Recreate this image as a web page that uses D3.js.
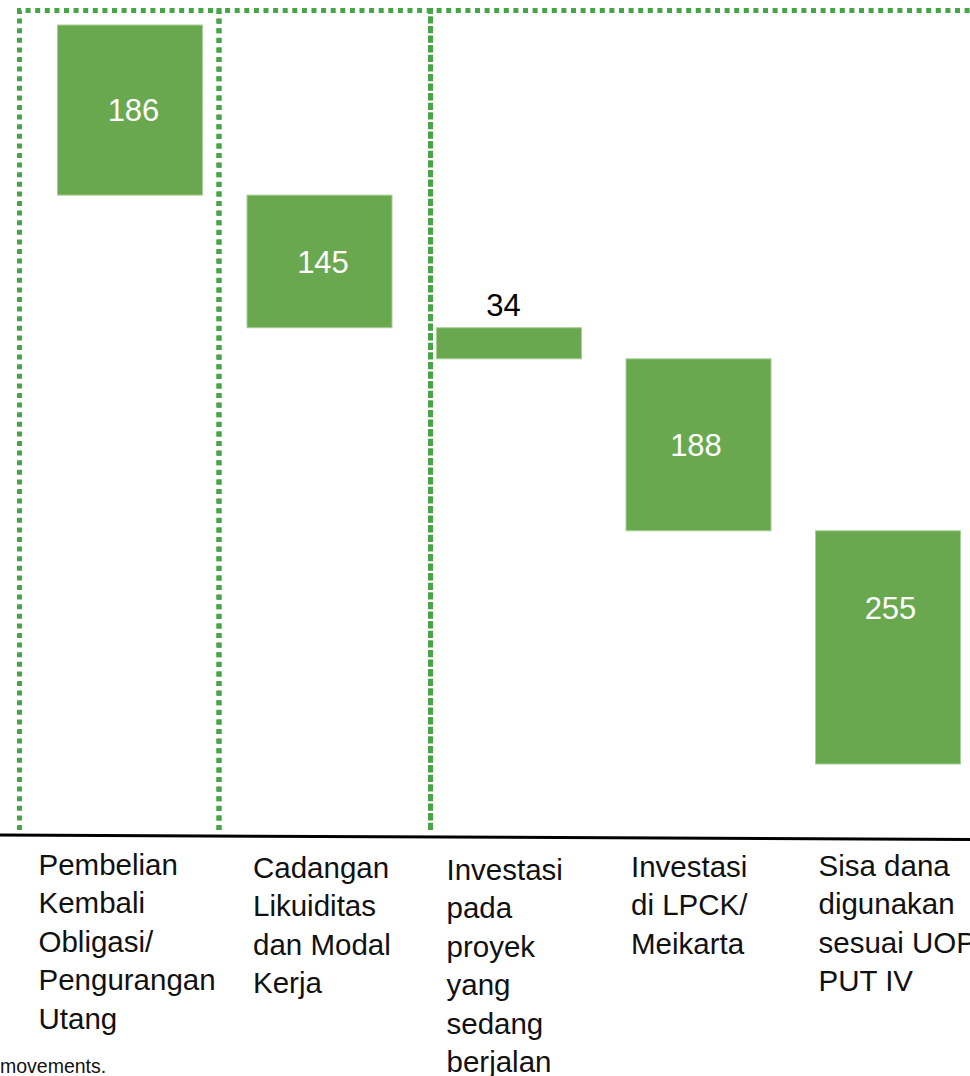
<!DOCTYPE html>
<html>
<head>
<meta charset="utf-8">
<script src="https://cdn.jsdelivr.net/npm/d3@7"></script>
<style>
  html, body { margin: 0; padding: 0; background: #fff; }
  svg { display: block; }
  .cat { font-family: "Liberation Sans", Arial, sans-serif; font-size: 29.5px; fill: #111; }
  .val { font-family: "Liberation Sans", Arial, sans-serif; font-size: 31px; }
  .note { font-family: "Liberation Sans", Arial, sans-serif; font-size: 19.5px; fill: #111; }
</style>
</head>
<body>
<svg id="waterfall"></svg>
<script>
// ---------- data ----------
var categories = ['pembelian', 'cadangan', 'proyek', 'lpck', 'sisa'];
var values = [186, 145, 34, 188, 255];
var catLines = [
  ['Pembelian', 'Kembali', 'Obligasi/', 'Pengurangan', 'Utang'],
  ['Cadangan', 'Likuiditas', 'dan Modal', 'Kerja'],
  ['Investasi', 'pada', 'proyek', 'yang', 'sedang', 'berjalan'],
  ['Investasi', 'di LPCK/', 'Meikarta'],
  ['Sisa dana', 'digunakan', 'sesuai UOP', 'PUT IV']
];
// dotted groupings: first and last bar index of each box
var groups = [[0, 0], [1, 1], [2, 4]];
var footnote = 'movements.';

// ---------- layout ----------
var width = 970,
    height = 1076,
    barColor = '#6aa84f',
    boxColor = '#47a447';
var boxLeftPad = [38, 28, 6];         // how far each box starts left of its first bar
var labelDx = [-19, 6, 10, 5, 3];     // category label offset from bar left
var labelDy = [0, 3, 5, 2, 1];
var valueDx = [3.5, 3.5, -5.5, -2.5, 2.5];
var valuePos = [0.5, 0.5, -1, 0.5, 0.33]; // fraction down the bar, -1 = above

var svg = d3.select('svg#waterfall')
    .attr('width', width)
    .attr('height', height);

// running totals from the top down
var total = d3.sum(values);
var steps = [];
var run = total;
values.forEach(function(v, i) {
  steps.push({cat: categories[i], value: v, top: run, bottom: run - v, i: i});
  run -= v;
});

var x = d3.scaleBand()
    .domain(categories)
    .range([35.25, 35.25 + 5 * 189.5])
    .paddingInner(0.2348)
    .paddingOuter(0.1174);

var y = d3.scaleLinear()
    .domain([0, total])
    .range([764, 25]);

//---------------------dotted boxes----------
var boxTop = 10.5, boxBottom = 830;
groups.forEach(function(g, k) {
  var x0 = x(categories[g[0]]) - boxLeftPad[k];
  var x1 = (k < groups.length - 1)
      ? x(categories[groups[k + 1][0]]) - boxLeftPad[k + 1]
      : width + 20;
  svg.append('path')
      .attr('d', 'M' + x0 + ',' + boxBottom + 'V' + boxTop + 'H' + x1 + 'V' + boxBottom)
      .attr('fill', 'none')
      .attr('stroke', boxColor)
      .attr('stroke-width', 5)
      .attr('stroke-dasharray', '5,4.6');
});

//---------------------bars----------
svg.selectAll('rect.bar')
  .data(steps)
  .enter()
  .append('rect')
    .classed('bar', true)
    .attr('x', d => x(d.cat))
    .attr('y', d => y(d.top))
    .attr('width', x.bandwidth())
    .attr('height', d => y(d.bottom) - y(d.top))
    .attr('fill', barColor)
    .attr('stroke', '#a9cf98')
    .attr('stroke-width', 1);

//---------------------value labels----------
svg.selectAll('text.val')
  .data(steps)
  .enter()
  .append('text')
    .classed('val', true)
    .attr('x', d => x(d.cat) + x.bandwidth() / 2 + valueDx[d.i])
    .attr('y', d => valuePos[d.i] < 0
        ? y(d.top) - 12
        : y(d.top) + (y(d.bottom) - y(d.top)) * valuePos[d.i])
    .attr('dy', d => valuePos[d.i] < 0 ? 0 : '0.36em')
    .attr('text-anchor', 'middle')
    .attr('fill', d => valuePos[d.i] < 0 ? '#000' : '#fff')
    .text(d => d.value);

//---------------------axis line----------
svg.append('line')
    .attr('x1', 0).attr('y1', 835)
    .attr('x2', width).attr('y2', 839.5)
    .attr('stroke', '#000')
    .attr('stroke-width', 3);

//---------------------category labels----------
var cats = svg.selectAll('text.cat')
  .data(steps)
  .enter()
  .append('text')
    .classed('cat', true)
    .attr('transform', d => 'translate(' + (x(d.cat) + labelDx[d.i]) + ',' + (875 + labelDy[d.i]) + ')');

cats.selectAll('tspan')
  .data(d => catLines[d.i])
  .enter()
  .append('tspan')
    .attr('x', 0)
    .attr('y', (d, j) => j * 38.4)
    .text(d => d);

//---------------------footnote----------
svg.append('text')
    .classed('note', true)
    .attr('x', 0)
    .attr('y', 1073)
    .text(footnote);
</script>
</body>
</html>
